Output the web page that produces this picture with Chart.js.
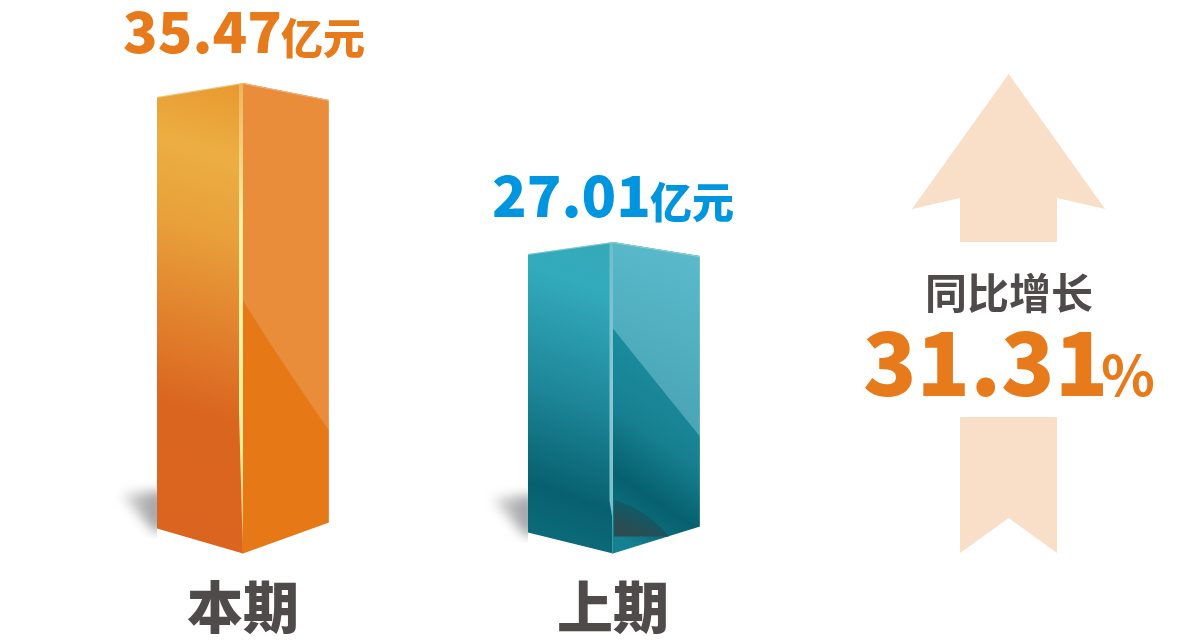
<!DOCTYPE html>
<html><head><meta charset="utf-8">
<style>html,body{margin:0;padding:0;background:#fff}canvas{display:block}</style>
<script src="https://cdn.jsdelivr.net/npm/chart.js@4"></script>
</head><body><canvas id="c" width="1200" height="642"></canvas>
<script>
const categories = ['本期', '上期'];
const revenue = [35.47, 27.01];
const unitLabel = '亿元';
const growthLabel = '同比增长';
const growthValue = '31.31';
const growthUnit = '%';
const axisFloor = 10.44;
const axisCeil = 39.89;

const FONT = '"Noto Sans CJK SC","Noto Sans",sans-serif';
const GREY = '#4f4b4a', ORANGE = '#e77a1a', BLUE = '#0095df', PEACH = '#f9dec8';

const looks = [
 { lx:-86, rx:86, lt:14, rt:17, lb:-25, rb:-31, labelColor:ORANGE, labelDx:-120, labelDy:-30,
   tilt:-136,
   left:[[0,'#e89a30'],[.14,'#ecae42'],[.3,'#e8a03a'],[.5,'#e17f2c'],[.66,'#da651f'],[1,'#db6520']],
   right:[[0,'#e77816'],[1,'#e77816']],
   gloss:'#ea8d3b', glossEnd:'#ea8d3b', gy0:-253, gy1:-123, gcx:36, gcy:-195,
   strip:[[0,'#eeb35c'],[.2,'#f8dc8a'],[.3,'#fff2a5'],[.78,'#fff09a'],[.93,'#f6c880'],[1,'#e77816']], sw:4, hold:.7, holdEnd:.97, thin:.5 },
 { lx:-85, rx:87, lt:12, rt:14, lb:-21, rb:-27, labelColor:BLUE, labelDx:-121, labelDy:-25,
   tilt:-110,
   left:[[0,'#35a9b9'],[.13,'#33abbd'],[.47,'#1d8698'],[.75,'#07606f'],[1,'#0f7282']],
   right:[[0,'#1a8a9c'],[.35,'#178090'],[.69,'#06606f'],[.85,'#0c6c7b'],[1,'#148092']],
   gloss:'#5bbccd', glossEnd:'#46a0b0', gy0:-225, gy1:-117, gcx:40, gcy:-175,
   strip:[[0,'#6dbfcc'],[.5,'#8cc8d2'],[.85,'#79c0cc'],[.92,'#3f98a6'],[1,'#3f98a6']], sw:3.5, hold:.83, holdEnd:.88, thin:1, inner:true }
];

const bar3d = {
 id:'bar3d',
 beforeDatasetsDraw(chart){
  const ctx = chart.ctx, meta = chart.getDatasetMeta(0);
  meta.data.forEach((el,i)=>{
   const k = looks[i], x = el.x, y = el.y, b = el.base;
   const L = x+k.lx, R = x+k.rx, tl = y+k.lt, tr = y+k.rt, bl = b+k.lb, br = b+k.rb, h = b-y;
   // cast shadow
   ctx.save();
   ctx.beginPath(); ctx.rect(L-60,bl-70,60,80); ctx.clip();
   ctx.filter='blur(6px)';
   let sg = ctx.createLinearGradient(L-38,0,L,0);
   sg.addColorStop(0,'rgba(150,150,152,.25)'); sg.addColorStop(1,'#a2a2a4');
   ctx.fillStyle=sg;
   ctx.beginPath(); ctx.moveTo(L-36,bl-34); ctx.lineTo(L+8,bl-38); ctx.lineTo(L+8,bl+4); ctx.lineTo(L-4,bl+2); ctx.closePath(); ctx.fill();
   ctx.restore();
   // left face
   let g = ctx.createLinearGradient(x-20,y,x-20+k.tilt,b);
   k.left.forEach(s=>g.addColorStop(s[0],s[1]));
   ctx.fillStyle=g;
   ctx.beginPath(); ctx.moveTo(L,tl); ctx.lineTo(x,y); ctx.lineTo(x,b); ctx.lineTo(L,bl); ctx.closePath(); ctx.fill();
   // right face
   g = ctx.createLinearGradient(R,y+157,x-3,b-24);
   k.right.forEach(s=>g.addColorStop(s[0],s[1]));
   ctx.fillStyle=g;
   ctx.beginPath(); ctx.moveTo(x,y); ctx.lineTo(R,tr); ctx.lineTo(R,br); ctx.lineTo(x,b); ctx.closePath(); ctx.fill();
   // inner dark corner
   if(k.inner){
    ctx.save();
    ctx.beginPath(); ctx.moveTo(x+1,b-53); ctx.quadraticCurveTo(x+32,b-46,x+56,b-17); ctx.lineTo(x+1,b-17); ctx.closePath(); ctx.clip();
    g = ctx.createLinearGradient(x+22,b-48,x+12,b-26);
    g.addColorStop(0,'#0b5c69'); g.addColorStop(1,'#2a4d53');
    ctx.fillStyle=g; ctx.fillRect(x,b-60,70,50);
    ctx.restore();
   }
   // gloss
   g = ctx.createLinearGradient(R,y,x,b+k.gy1);
   g.addColorStop(0,k.gloss); g.addColorStop(1,k.glossEnd);
   ctx.fillStyle=g;
   ctx.beginPath(); ctx.moveTo(x,y); ctx.lineTo(R,tr); ctx.lineTo(R,b+k.gy1);
   ctx.quadraticCurveTo(x+k.gcx,b+k.gcy,x,b+k.gy0); ctx.closePath(); ctx.fill();
   // right edge highlight
   ctx.fillStyle='rgba(255,255,255,.14)';
   ctx.fillRect(R-1,tr,1,br-tr);
   // top rim
   ctx.strokeStyle='rgba(255,255,255,.35)'; ctx.lineWidth=1;
   ctx.beginPath(); ctx.moveTo(L,tl+.5); ctx.lineTo(x,y+.5); ctx.lineTo(R,tr+.5); ctx.stroke();
   // corner strip
   g = ctx.createLinearGradient(0,y,0,b);
   k.strip.forEach(s=>g.addColorStop(s[0],s[1]));
   ctx.fillStyle=g;
   ctx.beginPath(); ctx.moveTo(x-k.sw,y+1); ctx.lineTo(x,y); ctx.lineTo(x,b);
   ctx.lineTo(x-k.thin,b); ctx.lineTo(x-k.thin,y+h*k.holdEnd); ctx.lineTo(x-k.sw,y+h*k.hold); ctx.closePath(); ctx.fill();
  });
 },
 afterDatasetsDraw(chart){
  const ctx = chart.ctx, meta = chart.getDatasetMeta(0);
  ctx.save();
  ctx.textBaseline='alphabetic'; ctx.textAlign='left';
  meta.data.forEach((el,i)=>{
   const k = looks[i], data = chart.data.datasets[0].data[i];
   const px = el.x+k.labelDx, py = el.y+k.labelDy;
   ctx.fillStyle=k.labelColor;
   ctx.font='900 57px '+FONT; ctx.letterSpacing='0px';
   ctx.fillText(data.toFixed(2),px,py);
   ctx.font='900 42px '+FONT;
   ctx.fillText(unitLabel,px+158,py+1);
  });
  // growth arrow
  const ax=1008.7;
  ctx.fillStyle=PEACH;
  ctx.beginPath();
  [[ax,74],[1105,209],[1057,198],[1057,242],[960,242],[960,198],[912,209]].forEach((p,i)=>i?ctx.lineTo(p[0],p[1]):ctx.moveTo(p[0],p[1]));
  ctx.closePath(); ctx.fill();
  ctx.beginPath();
  [[960,417],[1057,417],[1057,553],[ax,518],[960,553]].forEach((p,i)=>i?ctx.lineTo(p[0],p[1]):ctx.moveTo(p[0],p[1]));
  ctx.closePath(); ctx.fill();
  ctx.fillStyle=GREY; ctx.font='700 42px '+FONT;
  ctx.fillText(growthLabel,925,309);
  ctx.fillStyle=ORANGE; ctx.font='900 88px '+FONT;
  ctx.fillText(growthValue,863,396);
  ctx.font='700 56px '+FONT;
  ctx.fillText(growthUnit,1101,396);
  ctx.restore();
 }
};

new Chart(document.getElementById('c'),{
 type:'bar',
 data:{labels:categories,datasets:[{data:revenue,base:axisFloor,backgroundColor:'rgba(0,0,0,0)',borderWidth:0,barPercentage:.465,categoryPercentage:1}]},
 options:{
  responsive:false,animation:false,
  layout:{padding:{left:58,right:402,top:0,bottom:0}},
  plugins:{legend:{display:false},tooltip:{enabled:false},title:{display:false}},
  scales:{
   x:{grid:{display:false},border:{display:false},
      ticks:{color:GREY,font:{family:FONT,size:56,weight:'900'},padding:12,maxRotation:0},
      afterFit(s){s.height=88.5;}},
   y:{display:false,min:axisFloor,max:axisCeil}
  }
 },
 plugins:[bar3d]
});
</script></body></html>
